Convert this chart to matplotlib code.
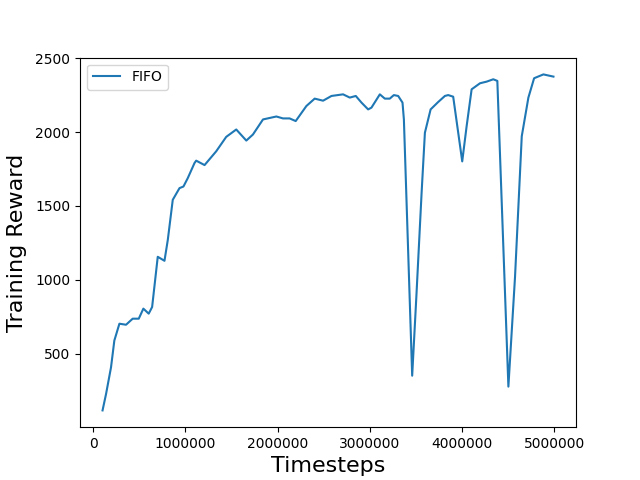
import matplotlib
matplotlib.use("Agg")
import matplotlib.pyplot as plt

timesteps = [100000, 138000, 192000, 228000, 283000, 355000, 427000, 493000, 543000, 601000,
             638000, 699000, 772000, 808000, 862000, 935000, 978000, 1025000, 1098000, 1116000,
             1207000, 1333000, 1442000, 1551000, 1660000, 1732000, 1841000, 1986000, 2058000,
             2130000, 2196000, 2312000, 2402000, 2493000, 2584000, 2710000, 2783000, 2848000,
             2910000, 2982000, 3018000, 3109000, 3163000, 3217000, 3261000, 3308000, 3355000,
             3370000, 3460000, 3507000, 3562000, 3598000, 3660000, 3742000, 3815000, 3851000,
             3905000, 4003000, 4051000, 4105000, 4196000, 4268000, 4340000, 4384000, 4504000,
             4576000, 4649000, 4721000, 4783000, 4884000, 4993000]
reward = [115, 226, 407, 588, 702, 695, 736, 736, 804, 770,
          815, 1155, 1128, 1269, 1541, 1620, 1631, 1688, 1790, 1806,
          1776, 1869, 1967, 2017, 1942, 1983, 2085, 2105, 2092,
          2092, 2074, 2176, 2226, 2212, 2244, 2255, 2233, 2244,
          2199, 2153, 2165, 2255, 2226, 2226, 2250, 2244, 2199,
          2085, 350, 906, 1586, 1995, 2153, 2203, 2244, 2250,
          2239, 1801, 2040, 2289, 2330, 2341, 2357, 2346, 276,
          1019, 1971, 2233, 2364, 2390, 2375]

fig, ax = plt.subplots(figsize=(6.4, 4.8), dpi=100)
ax.plot(timesteps, reward, color="#1f77b4", linewidth=1.5, label="FIFO")
ax.ticklabel_format(style="plain", axis="x", useOffset=False)
ax.set_xlabel("Timesteps", fontsize=16)
ax.set_ylabel("Training Reward", fontsize=16, labelpad=6)
ax.legend(loc="upper left")
fig.savefig("out.png", dpi=100)
